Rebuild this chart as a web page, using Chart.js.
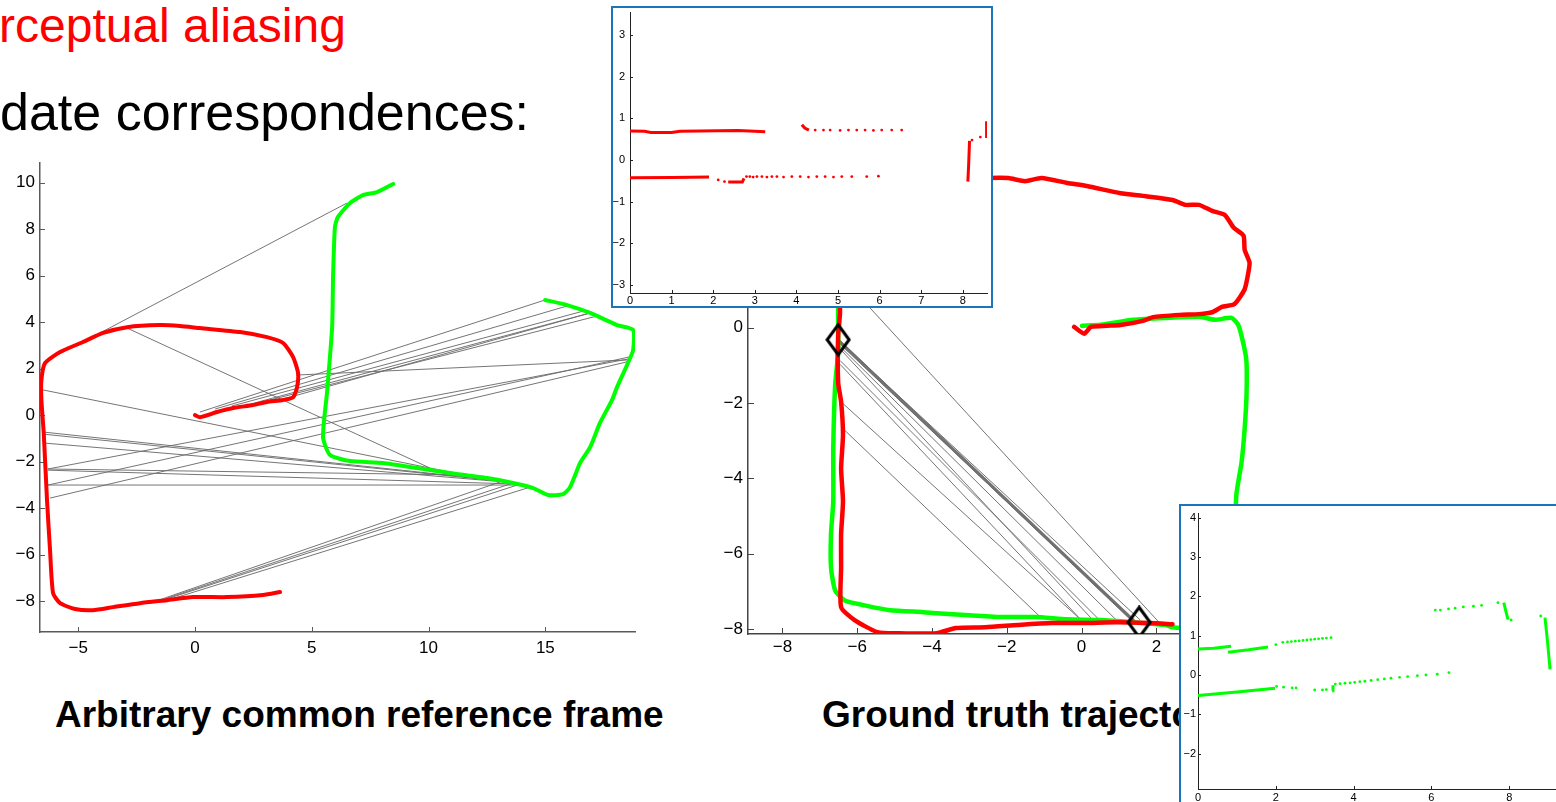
<!DOCTYPE html>
<html>
<head>
<meta charset="utf-8">
<script src="https://cdn.jsdelivr.net/npm/chart.js@4.4.0/dist/chart.umd.min.js"></script>
<style>
  html, body { margin: 0; padding: 0; background: #fff; width: 1556px; height: 802px; overflow: hidden; }
  body { position: relative; font-family: "Liberation Sans", Arial, Helvetica, sans-serif; }
  .box { position: absolute; }
  .txt { position: absolute; white-space: nowrap; }
  .title { font-size: 37px; line-height: 37px; font-weight: bold; color: #000; }
  .inset { position: absolute; border: 2px solid #1b75bb; background: #fff; box-sizing: border-box; overflow: hidden; }
  canvas { display: block; }
</style>
</head>
<body>
<div class="txt" style="left:-1px;top:2px;font-size:48px;line-height:48px;color:#ff0000">rceptual aliasing</div>
<div class="txt" style="left:0;top:86px;font-size:52px;line-height:52px;color:#000">date correspondences:</div>

<div class="box" style="left:0;top:150px;width:660px;height:530px"><canvas id="leftChart" width="660" height="530"></canvas></div>
<div class="txt title" style="left:55px;top:696px">Arbitrary common reference frame</div>

<div class="box" style="left:690px;top:140px;width:900px;height:540px"><canvas id="rightChart" width="900" height="540"></canvas></div>
<div class="txt title" style="left:822px;top:696px">Ground truth trajectories</div>

<div class="inset" style="left:611px;top:6px;width:382px;height:302px"><canvas id="scanA" width="378" height="298"></canvas></div>
<div class="inset" style="left:1179px;top:504px;width:400px;height:320px"><canvas id="scanB" width="396" height="316"></canvas></div>

<script>
// ---- arbitrary frame: both odometry runs ----
const leftRedPath = [
  [0, 0], [0.21, -0.09], [0.94, 0.13], [1.63, 0.30], [2.48, 0.43], [3.08, 0.56], [3.77, 0.65],
  [4.20, 0.77], [4.37, 1.20], [4.41, 1.81], [4.20, 2.49], [3.77, 3.10], [3.08, 3.35], [1.93, 3.57],
  [0.21, 3.74], [-0.64, 3.83], [-1.50, 3.87], [-2.91, 3.78], [-3.94, 3.53], [-4.80, 3.14],
  [-5.78, 2.71], [-6.42, 2.24], [-6.58, 1.51], [-6.58, 0.65], [-6.48, -0.77], [-6.34, -3.66],
  [-6.21, -5.81], [-6.08, -7.66], [-5.78, -8.09], [-5.14, -8.34], [-4.37, -8.39], [-3.51, -8.26],
  [-2.36, -8.09], [-1.20, -7.96], [-0.09, -7.83], [1.37, -7.83], [2.91, -7.74], [3.64, -7.61]
];
const leftGreenPath = [
  [8.48, 9.94], [7.79, 9.59], [7.19, 9.46], [6.64, 9.12], [6.12, 8.52], [5.99, 8.09], [5.91, 5.94],
  [5.87, 3.78], [5.65, 0.95], [5.48, -0.95], [5.78, -1.72], [6.64, -1.98], [8.05, -2.06],
  [9.51, -2.28], [10.92, -2.49], [12.51, -2.71], [13.62, -2.92], [14.48, -3.14], [15.12, -3.44],
  [15.76, -3.40], [16.06, -3.10], [16.49, -2.06], [16.92, -1.38], [17.34, -0.34], [17.86, 0.65],
  [18.07, 1.20], [18.54, 2.24], [18.76, 2.80], [18.76, 3.66], [18.07, 3.87], [16.92, 4.39],
  [15.93, 4.73], [14.99, 4.95]
];
// candidate matches: red end point -> green end point
const leftLinkFrom = [
  [-4.07, 3.53], [-2.91, 3.74], [-6.51, 1.08], [-6.51, -0.73], [-6.51, -0.82], [-6.51, -1.20],
  [-6.30, -2.32], [-6.30, -2.37], [-6.30, -3.01], [-6.30, -2.32], [-6.30, -3.01], [-6.21, -3.57],
  [0.21, 0.13], [0.86, 0.26], [1.58, 0.39], [2.36, 0.47], [2.87, 0.56], [3.64, 0.65], [4.33, 1.72],
  [-1.93, -8.09], [-1.58, -8.00], [-1.37, -7.96], [-1.16, -7.96]
];
const leftLinkTo = [
  [6.51, 9.12], [10.06, -2.28], [11.35, -2.54], [12.85, -2.80], [13.06, -2.84], [13.28, -2.88],
  [11.78, -2.58], [13.92, -2.97], [13.92, -3.01], [18.54, 2.41], [18.60, 2.50], [18.55, 2.30],
  [14.99, 4.95], [15.93, 4.69], [16.62, 4.47], [16.92, 4.39], [17.22, 4.26], [16.92, 4.39], [18.54, 2.37],
  [13.28, -2.80], [13.62, -2.92], [13.92, -2.97], [14.35, -3.10]
];
const leftXTicks = [-5, 0, 5, 10, 15];
const leftYTicks = [-8, -6, -4, -2, 0, 2, 4, 6, 8, 10];

// ---- ground truth frame ----
const rightRedPath = [
  [2.43, -7.87], [1.83, -7.84], [0.93, -7.82], [0.07, -7.84], [-0.80, -7.84], [-1.70, -7.89],
  [-2.57, -7.95], [-3.36, -7.97], [-3.88, -8.11], [-4.93, -8.11], [-5.46, -8.08], [-6.07, -7.76],
  [-6.43, -7.42], [-6.43, -6.37], [-6.43, -5.47], [-6.38, -4.61], [-6.43, -3.74], [-6.38, -2.84],
  [-6.43, -1.97], [-6.51, -1.45], [-6.51, -0.21], [-6.46, 0.39], [-6.49, 1.97], [-6.43, 3.29],
  [-6.20, 3.82], [-5.46, 3.92], [-4.14, 3.87], [-3.22, 3.92], [-2.49, 3.97], [-1.96, 3.97],
  [-1.51, 3.89], [-1.07, 3.97], [-0.38, 3.84], [0.14, 3.76], [1.04, 3.57], [1.72, 3.49],
  [2.43, 3.39], [2.78, 3.26], [3.14, 3.26], [3.49, 3.10], [3.83, 2.99], [4.07, 2.65], [4.33, 2.44],
  [4.36, 2.07], [4.49, 1.73], [4.46, 1.47], [4.36, 1.02], [4.09, 0.63], [3.75, 0.55], [3.49, 0.41],
  [3.14, 0.36], [2.62, 0.34], [1.91, 0.28], [1.64, 0.18], [1.04, 0.07], [0.67, 0.05], [0.25, 0.02],
  [0.07, -0.16], [-0.20, 0.02]
];
const rightGreenPath = [
  [0.01, 0.05], [0.51, 0.08], [1.38, 0.21], [2.25, 0.26], [3.14, 0.29], [3.57, 0.21], [4.01, 0.26],
  [4.20, 0.05], [4.36, -0.58], [4.41, -0.92], [4.41, -1.79], [4.36, -2.68], [4.28, -3.55],
  [4.14, -4.42], [4.09, -5.66], [4.01, -6.97], [3.75, -7.76], [2.96, -7.97], [2.43, -7.95],
  [2.25, -7.89], [1.38, -7.82], [0.51, -7.76], [-0.38, -7.74], [-1.25, -7.68], [-2.12, -7.68],
  [-3.01, -7.63], [-3.88, -7.58], [-4.22, -7.55], [-5.12, -7.50], [-5.80, -7.37], [-6.33, -7.24],
  [-6.59, -6.97], [-6.70, -6.37], [-6.70, -5.47], [-6.64, -4.61], [-6.64, -3.21], [-6.59, -1.53],
  [-6.51, -0.66], [-6.51, 0.13], [-6.51, 0.92]
];
const rightLinkFrom = [
  [-6.51, -0.32], [-6.50, -0.30], [-6.52, -0.35], [-6.51, -0.39], [-6.49, -0.47], [-6.49, -0.53],
  [-6.46, -0.87], [-6.46, -0.97], [-6.43, -1.97], [-6.38, -2.68], [-6.45, 1.38]
];
const rightLinkTo = [
  [1.57, -7.76], [1.40, -7.78], [1.36, -7.80], [1.38, -7.79], [0.99, -7.82], [0.33, -7.79],
  [0.51, -7.79], [-0.01, -7.76], [-0.01, -7.76], [-1.07, -7.71], [2.09, -7.84]
];
// the heavily repeated match between the two marked poses
const rightBundleFrom = [[-6.50, -0.34]];
const rightBundleTo = [[1.40, -7.78]];
const rightPoses = [[-6.51, -0.32], [1.54, -7.82]];
const rightXTicks = [-8, -6, -4, -2, 0, 2, 4, 6, 8, 10, 12];
const rightYTicks = [-8, -6, -4, -2, 0, 2, 4];

// ---- laser scans at the two matched poses ----
const scanARuns = [
  [[0, 0.70], [0.35, 0.69], [0.5, 0.66], [1.0, 0.66], [1.2, 0.69], [2.6, 0.71], [3.25, 0.68]],
  [[0, -0.43], [1.0, -0.42], [1.9, -0.41]],
  [[2.36, -0.53], [2.7, -0.53], [2.74, -0.44]],
  [[4.13, 0.85], [4.2, 0.77], [4.3, 0.72]],
  [[8.12, -0.52], [8.14, -0.1], [8.16, 0.46]],
  [[8.57, 0.53], [8.57, 0.93]]
];
const scanADots = [
  [2.12, -0.48], [2.27, -0.52], [2.80, -0.40], [2.88, -0.40], [2.96, -0.41], [3.05, -0.40],
  [3.17, -0.40], [3.29, -0.41], [3.41, -0.40], [3.53, -0.40], [3.69, -0.41], [3.89, -0.40],
  [4.09, -0.40], [4.29, -0.41], [4.49, -0.40], [4.69, -0.40], [4.89, -0.41], [5.09, -0.40],
  [5.33, -0.40], [5.69, -0.40], [5.97, -0.39],
  [4.45, 0.72], [4.65, 0.72], [4.81, 0.72], [5.05, 0.71], [5.25, 0.72], [5.45, 0.72], [5.65, 0.72],
  [5.85, 0.71], [6.05, 0.72], [6.29, 0.72], [6.53, 0.72],
  [8.22, 0.48], [8.42, 0.55]
];
const scanAXTicks = [0, 1, 2, 3, 4, 5, 6, 7, 8];
const scanAYTicks = [-3, -2, -1, 0, 1, 2, 3];

const scanBRuns = [
  [[0, 0.66], [0.4, 0.68], [0.85, 0.73]],
  [[0.77, 0.58], [1.3, 0.64], [1.8, 0.71]],
  [[0, -0.52], [1.0, -0.43], [1.98, -0.34]],
  [[3.45, -0.40], [3.47, -0.26]],
  [[7.86, 1.84], [7.92, 1.6], [7.97, 1.41]],
  [[8.92, 1.46], [8.98, 0.9], [9.05, 0.14]]
];
const scanBDots = [
  [2.00, 0.77], [2.18, 0.83], [2.30, 0.84], [2.40, 0.85], [2.50, 0.86], [2.60, 0.87], [2.70, 0.88],
  [2.80, 0.89], [2.90, 0.90], [3.00, 0.91], [3.10, 0.92], [3.20, 0.93], [3.30, 0.94], [3.42, 0.95],
  [2.02, -0.29], [2.20, -0.31], [2.42, -0.33], [2.52, -0.33], [3.00, -0.38], [3.20, -0.38],
  [3.30, -0.37], [3.53, -0.23], [3.65, -0.22], [3.78, -0.21], [3.91, -0.20], [4.03, -0.19],
  [4.16, -0.17], [4.29, -0.16], [4.45, -0.14], [4.62, -0.12], [4.79, -0.10], [4.96, -0.08],
  [5.18, -0.06], [5.39, -0.04], [5.64, -0.02], [5.86, 0.00], [6.15, 0.02], [6.45, 0.06],
  [6.10, 1.65], [6.23, 1.65], [6.44, 1.68], [6.61, 1.70], [6.82, 1.73], [7.08, 1.75], [7.29, 1.77],
  [7.71, 1.84], [8.05, 1.40], [8.81, 1.50]
];
const scanBXTicks = [0, 2, 4, 6, 8];
const scanBYTicks = [-2, -1, 0, 1, 2, 3, 4];

const FONT = '"Liberation Sans", Arial, Helvetica, sans-serif';
const minus = v => (v < 0 ? '\u2212' + Math.abs(v) : String(v));
const pts = arr => arr.map(p => ({ x: p[0], y: p[1] }));

// pairs of points joined by straight segments, broken by nulls
function links(from, to) {
  const out = [];
  from.forEach((p, i) => {
    out.push({ x: p[0], y: p[1] }, { x: to[i][0], y: to[i][1] }, { x: null, y: null });
  });
  return out;
}
function runs(list) {
  const out = [];
  list.forEach(r => { r.forEach(p => out.push({ x: p[0], y: p[1] })); out.push({ x: null, y: null }); });
  return out;
}

// MATLAB style ticks pointing into the axes
const inwardTicks = {
  id: 'inwardTicks',
  beforeDatasetsDraw(chart, args, opts) {
    const { ctx, chartArea: a, scales: { x, y } } = chart;
    ctx.save();
    ctx.strokeStyle = opts.color;
    ctx.lineWidth = opts.width;
    ctx.beginPath();
    x.ticks.forEach(t => {
      const p = Math.round(x.getPixelForValue(t.value)) + 0.5;
      ctx.moveTo(p, a.bottom); ctx.lineTo(p, a.bottom - opts.len);
    });
    y.ticks.forEach(t => {
      const p = Math.round(y.getPixelForValue(t.value)) + 0.5;
      ctx.moveTo(a.left, p); ctx.lineTo(a.left + opts.len, p);
    });
    ctx.stroke();
    ctx.restore();
  }
};
Chart.register(inwardTicks);

function axis(o) {
  return {
    type: 'linear',
    min: o.min,
    max: o.max,
    afterBuildTicks: s => { s.ticks = o.ticks.map(v => ({ value: v })); },
    afterFit: s => {
      if (o.horizontal) s.height = o.size; else s.width = o.size;
      // keep the plot box where the layout padding puts it
      s.paddingTop = s.paddingBottom = s.paddingLeft = s.paddingRight = 0;
    },
    grid: { display: false, drawTicks: false },
    border: { display: true, color: o.line, width: o.lineWidth },
    ticks: {
      autoSkip: false, maxRotation: 0, padding: o.pad, color: '#000',
      font: { family: FONT, size: o.font },
      callback: v => minus(v)
    }
  };
}

function makeChart(id, cfg) {
  return new Chart(document.getElementById(id), {
    type: 'scatter',
    data: { datasets: cfg.datasets },
    options: {
      responsive: false,
      animation: false,
      events: [],
      layout: { padding: cfg.padding },
      scales: { x: cfg.x, y: cfg.y },
      elements: { line: { tension: 0 } },
      plugins: {
        legend: { display: false },
        tooltip: { enabled: false },
        inwardTicks: cfg.ticks
      }
    }
  });
}

const trail = (data, color, w, order) => ({
  data: pts(data), showLine: true, borderColor: color, borderWidth: w, pointRadius: 0,
  tension: 0.2, borderJoinStyle: 'round', borderCapStyle: 'round', order: order
});
const grayLinks = (from, to, w, order) => ({
  data: links(from, to), showLine: true, borderColor: 'rgba(110,110,110,0.95)', borderWidth: w,
  pointRadius: 0, spanGaps: false, order: order
});

makeChart('leftChart', {
  padding: { top: 13, right: 25, bottom: 0, left: 0 },
  x: axis({ min: -6.64, max: 18.84, ticks: leftXTicks, horizontal: true, size: 48, pad: 6, font: 17, line: '#5a5a5a', lineWidth: 1.5 }),
  y: axis({ min: -9.33, max: 10.84, ticks: leftYTicks, size: 40, pad: 5, font: 17, line: '#5a5a5a', lineWidth: 1.5 }),
  ticks: { color: '#5a5a5a', width: 1, len: 5 },
  datasets: [
    trail(leftRedPath, '#ff0000', 4, 1),
    trail(leftGreenPath, '#00ff00', 4, 2),
    grayLinks(leftLinkFrom, leftLinkTo, 1, 3)
  ]
});

// robot pose marker: tall open diamond
function diamondMark() {
  const c = document.createElement('canvas');
  c.width = 26; c.height = 34;
  const g = c.getContext('2d');
  g.strokeStyle = '#000';
  g.lineWidth = 3;
  g.beginPath();
  g.moveTo(13, 2); g.lineTo(24, 17); g.lineTo(13, 32); g.lineTo(2, 17); g.closePath();
  g.stroke();
  return c;
}

makeChart('rightChart', {
  padding: { top: 10, right: 0, bottom: 0, left: 0 },
  x: axis({ min: -8.92, max: 13.22, ticks: rightXTicks, horizontal: true, size: 46, pad: 3, font: 17, line: '#444', lineWidth: 1.5 }),
  y: axis({ min: -8.13, max: 4.61, ticks: rightYTicks, size: 58, pad: 5, font: 17, line: '#444', lineWidth: 1.5 }),
  ticks: { color: '#444', width: 1, len: 6 },
  datasets: [
    { data: pts(rightPoses), showLine: false, pointStyle: diamondMark(), pointRadius: 13, order: 0 },
    trail(rightRedPath, '#ff0000', 4.5, 1),
    trail(rightGreenPath, '#00ff00', 4.5, 2),
    grayLinks(rightBundleFrom, rightBundleTo, 3, 3),
    grayLinks(rightLinkFrom, rightLinkTo, 1, 4)
  ]
});

function scanChart(id, c) {
  makeChart(id, {
    padding: c.padding,
    x: axis({ min: c.xMin, max: c.xMax, ticks: c.xTicks, horizontal: true, size: c.xSize, pad: c.xPad, font: 11, line: '#222', lineWidth: 1 }),
    y: axis({ min: c.yMin, max: c.yMax, ticks: c.yTicks, size: 17, pad: c.yPad, font: 11, line: '#222', lineWidth: 1 }),
    ticks: { color: '#222', width: 1, len: 3 },
    datasets: [
      { data: runs(c.runs), showLine: true, borderColor: c.color, borderWidth: 3, pointRadius: 0, spanGaps: false, order: 1 },
      { data: pts(c.dots), showLine: false, pointRadius: 1.4, pointBorderWidth: 0, backgroundColor: c.color, order: 2 }
    ]
  });
}

scanChart('scanA', {
  padding: { top: 4, right: 4, bottom: 0, left: 0 },
  xMin: 0, xMax: 8.58, yMin: -3.2, yMax: 3.56, xSize: 13, xPad: 1, yPad: 5,
  xTicks: scanAXTicks, yTicks: scanAYTicks, runs: scanARuns, dots: scanADots, color: '#ff0000'
});
scanChart('scanB', {
  padding: { top: 7, right: 0, bottom: 0, left: 0 },
  xMin: 0, xMax: 9.64, yMin: -2.9, yMax: 4.12, xSize: 33, xPad: 2, yPad: 2,
  xTicks: scanBXTicks, yTicks: scanBYTicks, runs: scanBRuns, dots: scanBDots, color: '#00ff00'
});
</script>
</body>
</html>
